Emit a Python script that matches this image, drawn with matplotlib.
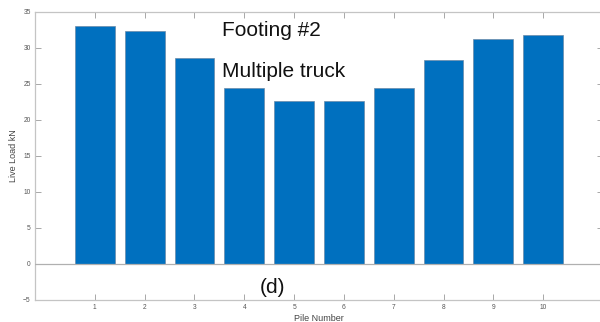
import matplotlib.pyplot as plt

# live load per pile, footing #2, multiple truck
piles = [1, 2, 3, 4, 5, 6, 7, 8, 9, 10]
live_load = [33.0, 32.4, 28.6, 24.5, 22.7, 22.7, 24.5, 28.3, 31.3, 31.85]
yticks = [-5, 0, 5, 10, 15, 20, 25, 30, 35]

plt.rcParams['font.family'] = ['Liberation Sans', 'DejaVu Sans']

fig = plt.figure(figsize=(6, 3.22), dpi=100)
# axes box runs a bit past the right edge of the picture (cropped figure)
ax = fig.add_axes([35/600, 22/322, 568/600, 288/322])

ax.bar(piles, live_load, width=0.8, color='#0070BF', edgecolor='#6a8aa8', linewidth=0.5, zorder=2)
ax.axhline(0, color='#b0b0b0', linewidth=0.9, zorder=3)

ax.set_xlim(-0.2, 11.2)
ax.set_ylim(-5, 35)
ax.set_xticks(piles)
ax.set_yticks(yticks)

for s in ax.spines.values():
    s.set_color('#c4c4c4')
    s.set_linewidth(0.9)
ax.tick_params(direction='in', length=4, width=0.7, color='#a8a8a8',
               labelsize=4.8, labelcolor='#555555', top=True, right=True, pad=3)

ax.set_xlabel('Pile Number', fontsize=6.5, color='#444444', labelpad=2)
ax.set_ylabel('Live Load kN', fontsize=6.5, color='#444444', labelpad=4)

ax.text(3.55, 31.7, 'Footing #2', fontsize=15, color='#111111')
ax.text(3.55, 26.0, 'Multiple truck', fontsize=15, color='#111111')
ax.text(4.32, -4.0, '(d)', fontsize=15, color='#111111')

fig.savefig('out.png', dpi=100)
